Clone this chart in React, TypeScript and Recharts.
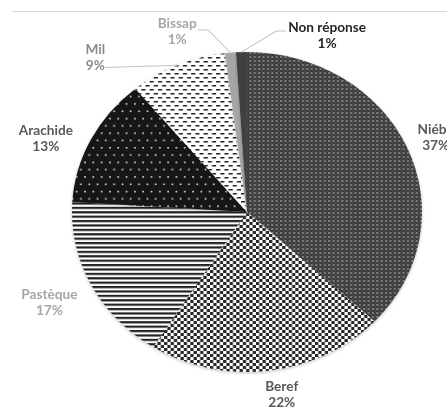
import React from 'react';
import { PieChart, Pie, Cell } from 'recharts';

// Crop shares (%), clockwise from 12 o'clock
const crops = ['Niébé', 'Beref', 'Pastèque', 'Arachide', 'Mil', 'Bissap', 'Non réponse'];
const shares = [37, 22, 17, 13, 9, 1, 1];
const sliceFills = [
  'url(#pat-niebe)',
  'url(#pat-beref)',
  'url(#pat-pasteque)',
  'url(#pat-arachide)',
  'url(#pat-mil)',
  '#a6a6a6',
  '#3f3f3f',
];
const labelColors = ['#595959', '#595959', '#a6a6a6', '#595959', '#8c8c8c', '#a6a6a6', '#262626'];

const data = crops.map((name, i) => ({ name, value: shares[i] }));

// The chart is drawn as a circle and then widened horizontally.
const STRETCH = 175 / 160;
const PAGE_W = 447;
const PAGE_H = 410;
const CHART_W = PAGE_W / STRETCH;
const CX = 225.8;
const CY = 212;
const RADIUS = 160;

type Leader = [number, number][];
const LABEL_LAYOUT: Record<string, { gap: number; turn: number; leader?: Leader }> = {
  'Niébé': { gap: 28, turn: 0 },
  'Beref': { gap: 25, turn: 2.7 },
  'Pastèque': { gap: 42, turn: -0.4 },
  'Arachide': { gap: 38, turn: 5.2 },
  'Mil': { gap: 48, turn: 18.4, leader: [[9, 10.5]] },
  'Bissap': { gap: 32, turn: 14, leader: [[28.2, -1], [19, -1]] },
  'Non réponse': { gap: 31.5, turn: -24.3, leader: [[-46.5, -4], [-37.6, -4]] },
};

const RAD = Math.PI / 180;
const polar = (cx: number, cy: number, r: number, deg: number): [number, number] => [
  cx + r * Math.cos(deg * RAD),
  cy - r * Math.sin(deg * RAD),
];

const FONT = 'Lato, "Open Sans", sans-serif';

function renderLabel(props: any) {
  const { cx, cy, midAngle, outerRadius, index } = props;
  const name: string = props.payload?.name ?? props.name ?? crops[index];
  const i = crops.indexOf(name);
  const layout = LABEL_LAYOUT[name];
  const [lx, ly] = polar(cx, cy, outerRadius + layout.gap, midAngle + layout.turn);
  let line = null;
  if (layout.leader) {
    const start = polar(cx, cy, outerRadius, midAngle);
    const pts = [start, ...layout.leader.map(([dx, dy]) => [lx + dx, ly + dy])];
    line = (
      <polyline
        points={pts.map((p) => p.join(',')).join(' ')}
        fill="none"
        stroke="#c4c4c4"
        strokeWidth={1}
      />
    );
  }
  const textProps = {
    textAnchor: 'middle' as const,
    dominantBaseline: 'central' as const,
    fill: labelColors[i],
    fontFamily: FONT,
    fontWeight: 700,
    fontSize: 12.5,
  };
  return (
    <g key={`label-${name}`}>
      {line}
      <text x={lx} y={ly - 8} {...textProps}>{name}</text>
      <text x={lx} y={ly + 8} {...textProps}>{`${shares[i]}%`}</text>
    </g>
  );
}

export default function App() {
  return (
    <div style={{ position: 'absolute', left: 0, top: 0, width: PAGE_W, height: PAGE_H, overflow: 'hidden', background: '#fff' }}>
      <div style={{ position: 'absolute', left: 12, top: 11, width: PAGE_W - 12, height: 1, background: '#d9d9d9' }} />
      <div style={{ position: 'absolute', left: 0, top: 0, transform: `scaleX(${STRETCH})`, transformOrigin: '0 0' }}>
        <PieChart width={CHART_W} height={PAGE_H} margin={{ top: 0, right: 0, bottom: 0, left: 0 }}>
          <defs>
            <pattern id="pat-niebe" width="4" height="4" patternUnits="userSpaceOnUse">
              <rect width="4" height="4" fill="#3a3a3a" />
              <rect x="0" y="0" width="2" height="2" fill="#7c7c7c" />
              <rect x="2" y="2" width="2" height="2" fill="#474747" />
            </pattern>
            <pattern id="pat-beref" width="6" height="6" patternUnits="userSpaceOnUse">
              <rect width="6" height="6" fill="#ffffff" />
              <rect x="0" y="0" width="3" height="3" fill="#262626" />
              <rect x="3" y="3" width="3" height="3" fill="#262626" />
            </pattern>
            <pattern id="pat-pasteque" width="4" height="4.4" patternUnits="userSpaceOnUse">
              <rect width="4" height="4.4" fill="#ffffff" />
              <rect x="0" y="0" width="4" height="2.2" fill="#222222" />
            </pattern>
            <pattern id="pat-arachide" width="7.6" height="14.6" patternUnits="userSpaceOnUse">
              <rect width="7.6" height="14.6" fill="#161616" />
              <rect x="1" y="1" width="1.5" height="1.5" fill="#e8e8e8" />
              <rect x="4.8" y="8.3" width="1.5" height="1.5" fill="#e8e8e8" />
            </pattern>
            <pattern id="pat-mil" width="7.6" height="8" patternUnits="userSpaceOnUse">
              <rect width="7.6" height="8" fill="#ffffff" />
              <rect x="0" y="1" width="3.8" height="1.5" fill="#222222" />
              <rect x="3.8" y="5" width="3.8" height="1.5" fill="#222222" />
            </pattern>
            <filter id="slice-shadow" x="-10%" y="-10%" width="120%" height="120%">
              <feDropShadow dx="0" dy="1" stdDeviation="1.5" floodColor="#000" floodOpacity="0.25" />
            </filter>
          </defs>
          <Pie
            data={data}
            dataKey="value"
            nameKey="name"
            cx={CX}
            cy={CY}
            outerRadius={RADIUS}
            startAngle={90}
            endAngle={-270}
            stroke="none"
            label={renderLabel}
            labelLine={false}
            isAnimationActive={false}
          >
            {data.map((d, i) => (
              <Cell key={d.name} fill={sliceFills[i]} filter="url(#slice-shadow)" />
            ))}
          </Pie>
        </PieChart>
      </div>
    </div>
  );
}
